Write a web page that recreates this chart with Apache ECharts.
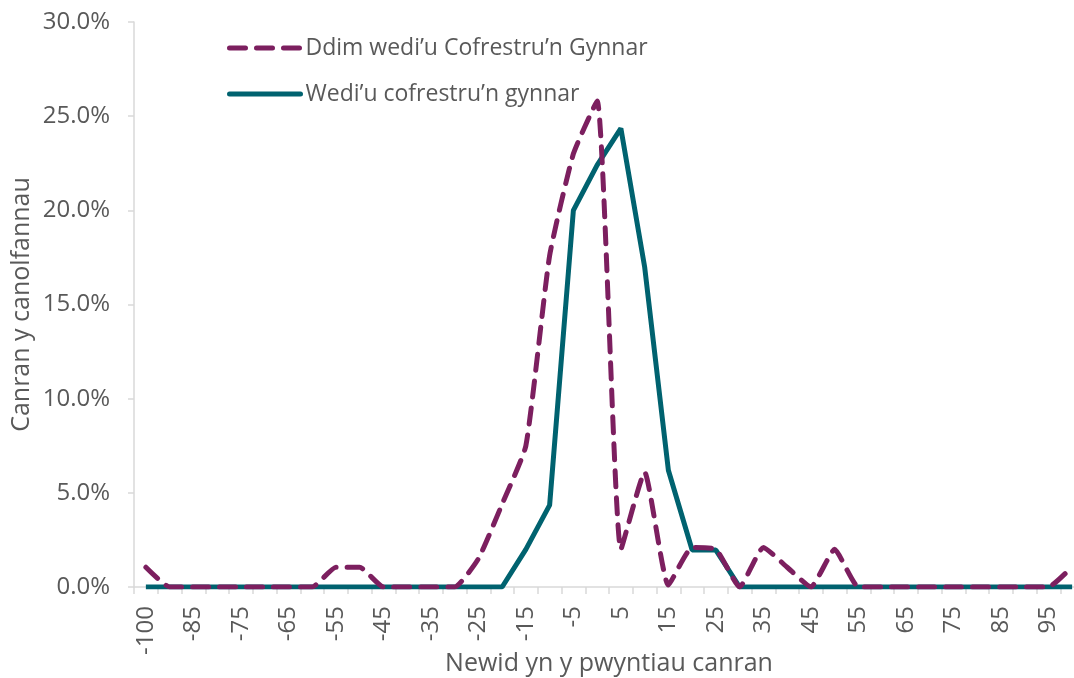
<!DOCTYPE html>
<html>
<head>
<meta charset="utf-8">
<script src="https://cdn.jsdelivr.net/npm/echarts@6/dist/echarts.min.js"></script>
<style>
  html, body { margin: 0; padding: 0; background: #fff; }
  #chart { width: 1074px; height: 678px; }
</style>
</head>
<body>
<div id="chart"></div>
<script>
// categories: change in percentage points
const categories = ['-100', '-90', '-85', '-80', '-75', '-70', '-65', '-60', '-55', '-50',
  '-45', '-40', '-35', '-30', '-25', '-20', '-15', '-10', '-5', '0',
  '5', '10', '15', '20', '25', '30', '35', '40', '45', '50',
  '55', '60', '65', '70', '75', '80', '85', '90', '95', '100']

// percent of centres
const notEarly = [1.05, 0, 0, 0, 0, 0, 0, 0, 1.05, 1.05,
  0, 0, 0, 0, 1.5, 4.4, 7.5, 17.6, 23.0, 25.8,
  2.0, 6.1, 0.1, 2.1, 2.0, 0, 2.1, 1.05, 0, 2.0,
  0, 0, 0, 0, 0, 0, 0, 0, 0, 1.08]

const early = [0, 0, 0, 0, 0, 0, 0, 0, 0, 0,
  0, 0, 0, 0, 0, 0, 2.0, 4.35, 20.0, 22.4,
  24.35, 17.0, 6.2, 1.96, 1.96, 0, 0, 0, 0, 0,
  0, 0, 0, 0, 0, 0, 0, 0, 0, 0]

const seriesNames = ['Ddim wedi’u Cofrestru’n Gynnar', 'Wedi’u cofrestru’n gynnar']

const FONT = 'Open Sans'
const TEXT = '#595959'
const AXIS = '#d9d9d9'

const chart = echarts.init(document.getElementById('chart'))

const option = {
  animation: false,
  textStyle: { fontFamily: FONT },
  grid: {
    left: 134,
    right: -10,
    top: 22,
    bottom: 91,
    outerBoundsMode: 'none'
  },
  legend: {
    orient: 'vertical',
    left: 222,
    top: 30,
    itemWidth: 71,
    itemHeight: 26,
    itemGap: 20,
    itemStyle: { opacity: 0 },
    lineStyle: { width: 5, cap: 'round' },
    textStyle: { color: TEXT, fontSize: 23, lineHeight: 26, fontFamily: FONT },
    data: seriesNames
  },
  xAxis: {
    type: 'category',
    data: categories,
    boundaryGap: true,
    name: 'Newid yn y pwyntiau canran',
    nameLocation: 'middle',
    nameGap: 64,
    nameMoveOverlap: false,
    nameTextStyle: { color: TEXT, fontSize: 25, fontFamily: FONT },
    axisLine: { lineStyle: { color: AXIS, width: 1.5 } },
    axisTick: { show: true, interval: 0, length: 7, lineStyle: { color: AXIS, width: 1.5 } },
    axisLabel: { interval: 1, rotate: 90, margin: 19, color: TEXT, fontSize: 24, fontFamily: FONT },
    splitLine: { show: false }
  },
  yAxis: {
    type: 'value',
    min: 0,
    max: 30,
    interval: 5,
    name: 'Canran y canolfannau',
    nameLocation: 'middle',
    nameGap: 100,
    nameMoveOverlap: false,
    nameTextStyle: { color: TEXT, fontSize: 25, fontFamily: FONT },
    axisLine: { show: true, lineStyle: { color: AXIS, width: 1.5 } },
    axisTick: { show: true, length: 6, lineStyle: { color: AXIS, width: 1.5 } },
    axisLabel: {
      color: TEXT,
      fontSize: 24,
      fontFamily: FONT,
      margin: 24,
      formatter: v => v.toFixed(1) + '%'
    },
    splitLine: { show: false }
  },
  series: [
    {
      name: seriesNames[0],
      type: 'line',
      data: notEarly,
      symbol: 'none',
      smooth: 0.15,
      z: 3,
      lineStyle: { color: '#7c1f5f', width: 5, type: [16, 11], cap: 'round' },
      itemStyle: { color: '#7c1f5f' }
    },
    {
      name: seriesNames[1],
      type: 'line',
      data: early,
      symbol: 'none',
      z: 2,
      lineStyle: { color: '#00626f', width: 5 },
      itemStyle: { color: '#00626f' }
    }
  ]
}

chart.setOption(option)
</script>
</body>
</html>
